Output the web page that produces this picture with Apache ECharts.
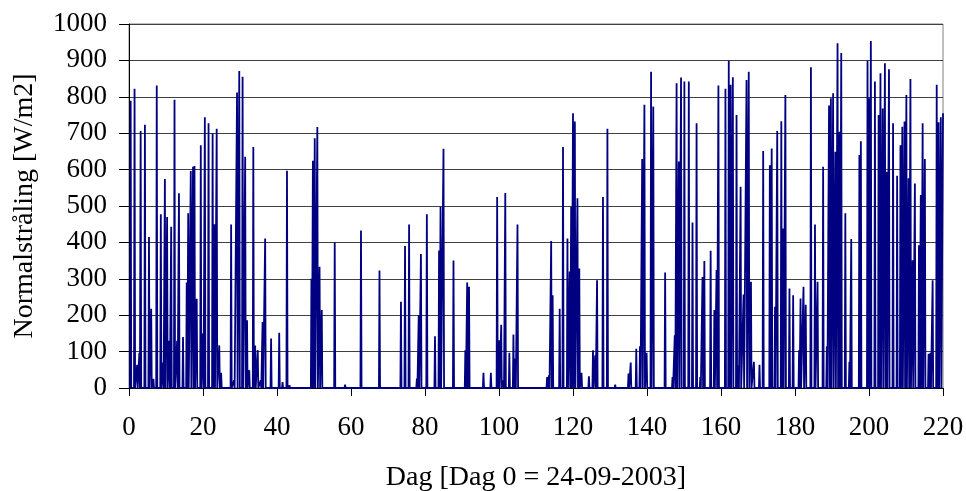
<!DOCTYPE html>
<html>
<head>
<meta charset="utf-8">
<title>Normalstråling</title>
<script src="https://cdn.jsdelivr.net/npm/echarts@6/dist/echarts.min.js"></script>
<style>
  html, body { margin: 0; padding: 0; background: #fff; }
  #chart { width: 966px; height: 491px; }
</style>
</head>
<body>
<div id="chart"></div>
<script>
// dag for hver topp
const peakDay = [
  0.45, 1.5, 2.2, 2.8, 3.15, 4.3, 5.4, 6.0, 6.6, 7.5, 8.6, 9.2, 9.7, 10.3, 10.9, 11.4, 12.3, 13.0, 13.5, 14.6,
  15.6, 16.0, 16.7, 17.3, 17.7, 18.3, 19.4, 20.0, 20.5, 21.5, 22.6, 23.1, 23.7, 24.4, 24.9,
  26.0, 27.6, 28.4, 29.2, 29.8, 30.7, 31.4, 31.9, 32.5, 33.6, 34.1, 34.8, 35.6, 36.1, 36.8, 38.4, 40.6, 41.5,
  42.7, 43.4, 45.4, 49.3, 49.7, 50.2, 50.9, 51.5, 52.1, 55.6,
  58.4, 62.7, 67.7, 73.5, 74.6, 75.7, 77.8, 78.3, 78.9, 80.5, 82.7, 83.8, 84.2, 85.0, 87.7,
  90.9, 91.4, 91.9, 95.8, 97.8, 99.5, 100.0, 100.6, 101.2, 101.7, 102.8, 103.9, 104.4, 105.0, 106.1, 109.9, 111.5,
  113.0, 113.5, 114.1, 114.5, 116.4, 117.3, 118.5, 119.1, 119.5, 120.0, 120.5, 121.2, 121.7, 122.3, 124.3, 125.4,
  126.0, 126.5, 128.1, 129.3, 131.4, 134.1, 135.0, 135.6, 137.1, 138.1, 138.7, 139.3, 139.9,
  141.1, 141.7, 144.9, 146.9, 147.5, 148.0, 148.6, 149.2, 150.1, 151.3, 152.3, 153.4, 154.4, 155.0, 155.5, 157.2,
  158.2, 158.8, 159.3, 161.2, 162.1, 162.6, 163.2, 164.2, 164.7, 165.3, 166.1, 166.9, 167.5, 168.1, 168.9,
  170.4, 171.4, 173.2, 173.7, 174.6, 175.2, 176.3, 176.8, 177.4, 178.5, 179.5, 181.1, 181.5, 182.3, 182.9, 184.3,
  185.4, 186.1, 187.6, 188.6, 189.2, 189.7, 190.3, 190.9, 191.5, 192.0, 192.5, 193.6, 194.7, 195.2, 197.4,
  197.8, 199.6, 200.0, 200.5, 201.6, 202.6, 203.1, 203.7, 204.3, 204.8, 205.4, 206.5, 207.6, 208.5, 209.0, 209.6,
  210.1, 210.7, 211.2, 211.8, 212.4, 213.5, 214.0, 214.5, 215.1, 216.1, 216.6, 217.2, 218.3, 218.8, 219.4, 220.0
]
// normalstråling i toppen [W/m2]
const peakVal = [
  789, 822, 64, 97, 706, 723, 415, 218, 25, 831, 477, 70, 574, 470, 130, 443, 792, 130, 535, 140,
  290, 480, 596, 608, 610, 245, 667, 150, 744, 727, 700, 450, 712, 117, 42,
  5, 449, 21, 812, 871, 855, 635, 186, 49, 662, 117, 104, 21, 181, 411, 136, 152, 16,
  597, 7, 5, 300, 624, 686, 717, 333, 214, 400,
  9, 433, 323, 237, 390, 449, 26, 200, 368, 477, 142, 378, 498, 657, 350,
  104, 290, 278, 42, 42, 525, 131, 174, 21, 536, 97, 147, 81, 449, 5, 5, 5,
  30, 35, 404, 255, 218, 662, 411, 320, 498, 755, 732, 521, 328, 42, 32, 104,
  90, 296, 525, 712, 9, 5, 40, 70, 108, 115, 629, 778, 97,
  869, 773, 317, 30, 145, 837, 622, 853, 842, 842, 455, 727, 30, 305, 349, 377,
  214, 324, 831, 822, 899, 833, 854, 750, 62, 553, 257, 846, 869, 292, 72,
  64, 651, 612, 658, 223, 706, 733, 438, 805, 273, 255, 104, 246, 278, 229, 881,
  449, 292, 608, 115, 776, 796, 810, 649, 947, 704, 920, 480, 72, 409, 640,
  678, 899, 796, 953, 842, 750, 865, 768, 892, 594, 876, 727, 583, 667, 718, 732,
  805, 576, 849, 351, 562, 392, 530, 727, 629, 94, 97, 296, 833, 730, 744, 755
]
const halfDay = 0.15 // natten: strålingen er 0 på hver side af toppen

function buildSeries() {
  const arr = []
  for (let i = 0; i < peakDay.length; i++) {
    arr.push([peakDay[i] - halfDay, 0])
    arr.push([peakDay[i], peakVal[i]])
    if (peakDay[i] < 220) arr.push([peakDay[i] + halfDay, 0])
  }
  return arr
}

const font = 'Liberation Serif, Times New Roman, serif'
const chart = echarts.init(document.getElementById('chart'))
chart.setOption({
  animation: false,
  grid: {
    left: 129,
    right: 23,
    top: 24,
    bottom: 103,
    outerBoundsMode: 'none',
    show: true,
    borderColor: '#808080',
    borderWidth: 1
  },
  xAxis: {
    type: 'value',
    min: 0,
    max: 220,
    interval: 20,
    name: 'Dag [Dag 0 = 24-09-2003]',
    nameLocation: 'middle',
    nameGap: 76,
    nameTextStyle: { fontFamily: font, fontSize: 28, color: '#000' },
    axisLine: { show: true, onZero: false, lineStyle: { color: '#000', width: 1 } },
    axisTick: { show: true, inside: false, length: 8, lineStyle: { color: '#000' } },
    axisLabel: { fontFamily: font, fontSize: 27, color: '#000', margin: 26 },
    splitLine: { show: false }
  },
  yAxis: {
    type: 'value',
    min: 0,
    max: 1000,
    interval: 100,
    name: 'Normalstråling [W/m2]',
    nameLocation: 'middle',
    nameGap: 90,
    nameRotate: 90,
    nameTextStyle: { fontFamily: font, fontSize: 28, color: '#000' },
    axisLine: { show: true, lineStyle: { color: '#000', width: 1 } },
    axisTick: { show: true, inside: false, length: 10, lineStyle: { color: '#000' } },
    axisLabel: {
      fontFamily: font,
      fontSize: 27,
      color: '#000',
      margin: 22,
      formatter: v => String(v)
    },
    splitLine: { show: true, lineStyle: { color: '#404040', width: 1 } }
  },
  series: [
    {
      name: 'Normalstråling',
      type: 'line',
      data: buildSeries(),
      symbol: 'none',
      lineStyle: { color: '#000080', width: 1.8 },
      itemStyle: { color: '#000080' },
      clip: true
    }
  ]
})
</script>
</body>
</html>
